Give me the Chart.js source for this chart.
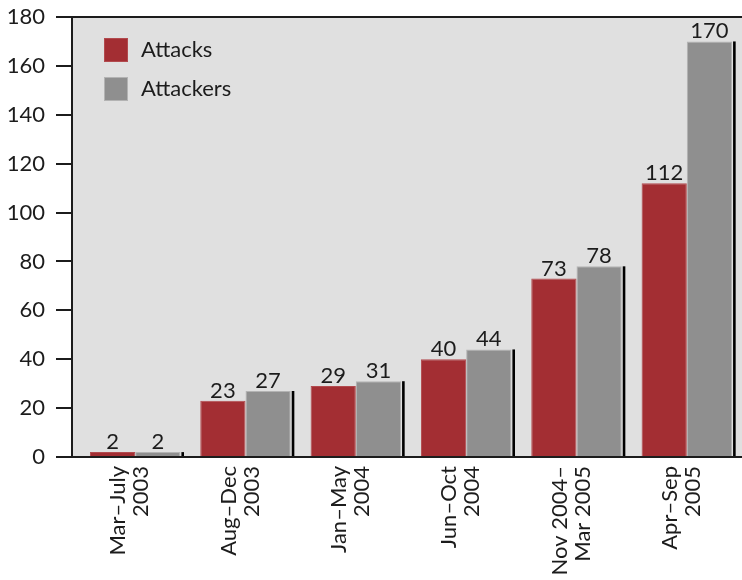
<!DOCTYPE html>
<html>
<head>
<meta charset="utf-8">
<script src="https://cdn.jsdelivr.net/npm/chart.js@4.4.0/dist/chart.umd.min.js"></script>
<style>
  html, body { margin: 0; padding: 0; background: #fff; }
  #wrap { width: 742px; height: 580px; }
</style>
</head>
<body>
<div id="wrap"><canvas id="myChart"></canvas></div>
<script>
const periods = [
  ["Mar–July", "2003"],
  ["Aug–Dec", "2003"],
  ["Jan–May", "2004"],
  ["Jun–Oct", "2004"],
  ["Nov 2004–", "Mar 2005"],
  ["Apr–Sep", "2005"],
];
const attacks = [2, 23, 29, 40, 73, 112];
const attackers = [2, 27, 31, 44, 78, 170];
const yMin = 0;
const yMax = 180;
const yStep = 20;

const FONT = "Lato, 'Open Sans', sans-serif";
const INK = "#1c1c1c";
const AXIS_GAP = 8; // axis line sits a little left of the first bar group

const framePlugin = {
  id: "frame",
  beforeDraw(chart) {
    const {ctx, chartArea: a, scales: {y}} = chart;
    const x0 = a.left - AXIS_GAP;
    ctx.save();
    ctx.fillStyle = "#e0e0e0";
    ctx.fillRect(x0, a.top, a.right - x0, a.bottom - a.top);
    ctx.strokeStyle = INK;
    ctx.lineWidth = 2;
    ctx.beginPath();
    y.ticks.forEach(t => {
      const py = Math.round(y.getPixelForValue(t.value));
      ctx.moveTo(x0 - 16, py);
      ctx.lineTo(x0, py);
    });
    ctx.moveTo(x0, a.top);
    ctx.lineTo(x0, a.bottom);
    ctx.moveTo(x0, Math.round(a.top));
    ctx.lineTo(a.right, Math.round(a.top));
    ctx.stroke();
    ctx.restore();
  },
  afterDatasetsDraw(chart) {
    const {ctx, chartArea: a} = chart;
    ctx.save();

    // black drop shadow on the right of the grey bars
    const shadowMeta = chart.getDatasetMeta(1);
    ctx.fillStyle = "#000";
    shadowMeta.data.forEach(bar => {
      ctx.fillRect(bar.x + bar.width / 2 + 1, bar.y, 2.6, bar.base - bar.y);
    });

    // baseline
    ctx.strokeStyle = INK;
    ctx.lineWidth = 2;
    ctx.beginPath();
    ctx.moveTo(a.left - AXIS_GAP, Math.round(a.bottom));
    ctx.lineTo(a.right, Math.round(a.bottom));
    ctx.stroke();

    // value labels
    ctx.fillStyle = INK;
    ctx.font = "22px " + FONT;
    ctx.textAlign = "center";
    ctx.textBaseline = "alphabetic";
    chart.data.datasets.forEach((ds, i) => {
      chart.getDatasetMeta(i).data.forEach((bar, j) => {
        ctx.fillText(String(ds.data[j]), bar.x, bar.y - 3);
      });
    });

    // legend inside the plot
    ctx.textAlign = "left";
    ctx.textBaseline = "middle";
    chart.data.datasets.forEach((ds, i) => {
      const top = a.top + 21 + i * 39;
      ctx.fillStyle = ds.backgroundColor;
      ctx.fillRect(a.left + 24, top, 24, 24);
      ctx.strokeStyle = ds.borderColor;
      ctx.lineWidth = 1;
      ctx.strokeRect(a.left + 24.5, top + 0.5, 23, 23);
      ctx.fillStyle = INK;
      ctx.fillText(ds.label, a.left + 61, top + 12);
    });
    ctx.restore();
  }
};

new Chart(document.getElementById("myChart"), {
  type: "bar",
  data: {
    labels: periods,
    datasets: [
      {
        label: "Attacks",
        data: attacks,
        backgroundColor: "#a32e33",
        borderColor: "#b24a4e",
        borderWidth: 1,
      },
      {
        label: "Attackers",
        data: attackers,
        backgroundColor: "#8f8f8f",
        borderColor: "#b3b3b3",
        borderWidth: 1,
      },
    ],
  },
  options: {
    responsive: true,
    maintainAspectRatio: false,
    animation: false,
    layout: {padding: {top: 17, right: 0, bottom: 0, left: 0}},
    datasets: {
      bar: {categoryPercentage: 0.82, barPercentage: 1.0},
    },
    plugins: {
      legend: {display: false},
      tooltip: {enabled: false},
    },
    scales: {
      x: {
        grid: {display: false, drawTicks: false},
        border: {display: false},
        ticks: {
          font: {family: FONT, size: 22, lineHeight: 1.05},
          color: INK,
          minRotation: 90,
          maxRotation: 90,
          autoSkip: false,
          padding: 9,
          labelOffset: -17,
        },
        afterFit(scale) {
          scale.height = 123;
          scale.paddingLeft = 0;
          scale.paddingRight = 0;
        },
      },
      y: {
        min: yMin,
        max: yMax,
        grid: {display: false, drawTicks: false},
        border: {display: false},
        ticks: {
          stepSize: yStep,
          font: {family: FONT, size: 22},
          color: INK,
          padding: 35,
        },
        afterFit(scale) {
          scale.width = 80;
          scale.paddingTop = 0;
          scale.paddingBottom = 0;
        },
      },
    },
  },
  plugins: [framePlugin],
});
</script>
</body>
</html>
